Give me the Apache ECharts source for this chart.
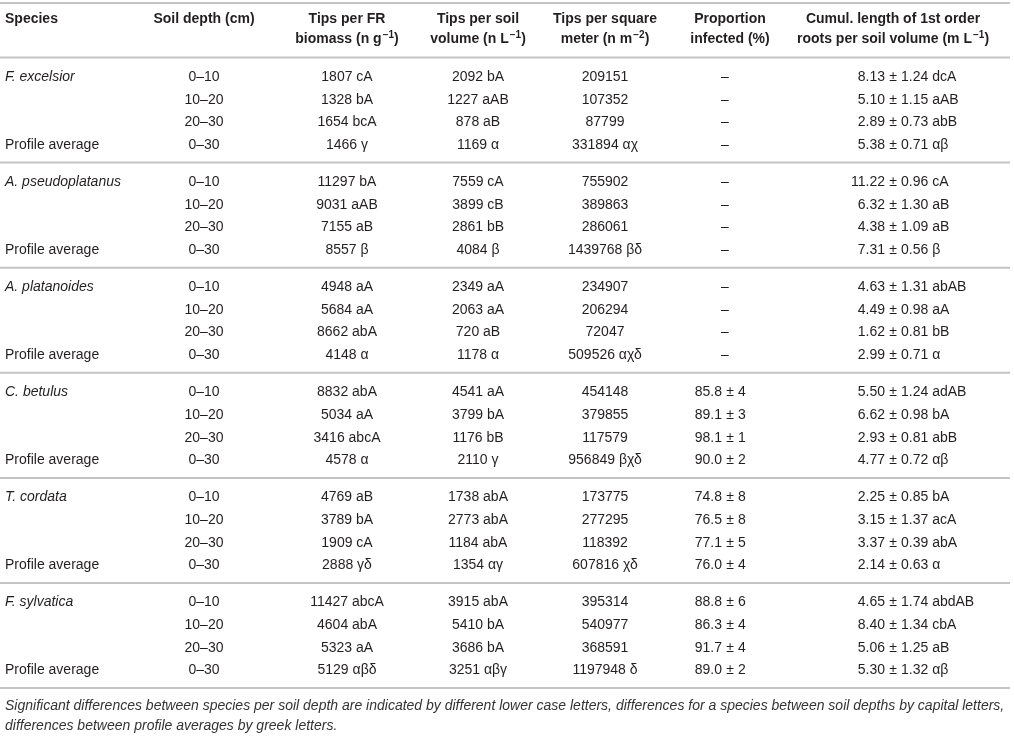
<!DOCTYPE html>
<html><head><meta charset="utf-8">
<script src="https://cdn.jsdelivr.net/npm/echarts@6/dist/echarts.min.js"></script>
<style>html,body{margin:0;padding:0;background:#fff}#c{width:1014px;height:737px}</style>
</head><body><div id="c"></div>
<script>
// ---------------- data ----------------
const species = ['F. excelsior', 'A. pseudoplatanus', 'A. platanoides', 'C. betulus', 'T. cordata', 'F. sylvatica'];
const depths = ['0–10', '10–20', '20–30', '0–30'];
const avgLabel = 'Profile average';
const tipsFR = [1807, 1328, 1654, 1466, 11297, 9031, 7155, 8557, 4948, 5684, 8662, 4148, 8832, 5034, 3416, 4578, 4769, 3789, 1909, 2888, 11427, 4604, 5323, 5129];
const tipsFRSig = ['cA', 'bA', 'bcA', 'γ', 'bA', 'aAB', 'aB', 'β', 'aA', 'aA', 'abA', 'α', 'abA', 'aA', 'abcA', 'α', 'aB', 'bA', 'cA', 'γδ', 'abcA', 'abA', 'aA', 'αβδ'];
const tipsVol = [2092, 1227, 878, 1169, 7559, 3899, 2861, 4084, 2349, 2063, 720, 1178, 4541, 3799, 1176, 2110, 1738, 2773, 1184, 1354, 3915, 5410, 3686, 3251];
const tipsVolSig = ['bA', 'aAB', 'aB', 'α', 'cA', 'cB', 'bB', 'β', 'aA', 'aA', 'aB', 'α', 'aA', 'bA', 'bB', 'γ', 'abA', 'abA', 'abA', 'αγ', 'abA', 'bA', 'bA', 'αβγ'];
const tipsM2 = [209151, 107352, 87799, 331894, 755902, 389863, 286061, 1439768, 234907, 206294, 72047, 509526, 454148, 379855, 117579, 956849, 173775, 277295, 118392, 607816, 395314, 540977, 368591, 1197948];
const tipsM2Sig = ['', '', '', 'αχ', '', '', '', 'βδ', '', '', '', 'αχδ', '', '', '', 'βχδ', '', '', '', 'χδ', '', '', '', 'δ'];
const infected = [null, null, null, null, null, null, null, null, null, null, null, null, 85.8, 89.1, 98.1, 90.0, 74.8, 76.5, 77.1, 76.0, 88.8, 86.3, 91.7, 89.0];
const infectedSE = [null, null, null, null, null, null, null, null, null, null, null, null, 4, 3, 1, 2, 8, 8, 5, 4, 6, 4, 4, 2];
const cumLen = [8.13, 5.10, 2.89, 5.38, 11.22, 6.32, 4.38, 7.31, 4.63, 4.49, 1.62, 2.99, 5.50, 6.62, 2.93, 4.77, 2.25, 3.15, 3.37, 2.14, 4.65, 8.40, 5.06, 5.30];
const cumLenSE = [1.24, 1.15, 0.73, 0.71, 0.96, 1.30, 1.09, 0.56, 1.31, 0.98, 0.81, 0.71, 1.24, 0.98, 0.81, 0.72, 0.85, 1.37, 0.39, 0.63, 1.74, 1.34, 1.25, 1.32];
const cumLenSig = ['dcA', 'aAB', 'abB', 'αβ', 'cA', 'aB', 'aB', 'β', 'abAB', 'aA', 'bB', 'α', 'adAB', 'bA', 'abB', 'αβ', 'bA', 'acA', 'abA', 'α', 'abdAB', 'cbA', 'aB', 'αβ'];
const headers = [
  ['Species'],
  ['Soil depth (cm)'],
  ['Tips per FR', ['biomass (n g', '−1', ')']],
  ['Tips per soil', ['volume (n L', '−1', ')']],
  ['Tips per square', ['meter (n m', '−2', ')']],
  ['Proportion', ['infected (%)']],
  ['Cumul. length of 1st order', ['roots per soil volume (m L', '−1', ')']]
];
const footnote = [
  'Significant differences between species per soil depth are indicated by different lower case letters, differences for a species between soil depths by capital letters,',
  'differences between profile averages by greek letters.'
];

// ---------------- layout ----------------
const FONT = '"Liberation Sans", Arial, sans-serif';
const TXT = '#231f20';
const LINE = '#c4c4c4';
const colX = [5, 204, 347, 478, 605, 730, 893];
const PM = 8;
const topLineY = 3, headLineY = 57.5, groupH = 105.1, rowH = 22.7, firstRowOff = 19.5;
const head1Y = 19, head2Y = 38;
const g = [];

function text(str, x, y, align, font, fill) {
  g.push({ type: 'text', silent: true, style: { text: str, x: x, y: y, font: font, fill: fill || TXT,
    align: align, textAlign: align, verticalAlign: 'middle', textVerticalAlign: 'middle' } });
}
function hline(y) {
  g.push({ type: 'line', silent: true, shape: { x1: 0, y1: y, x2: 1010, y2: y }, style: { stroke: LINE, lineWidth: 2 } });
}
const F = '14px ' + FONT, FB = 'bold 14px ' + FONT, FI = 'italic 14px ' + FONT;

// header
hline(topLineY);
headers.forEach((h, c) => {
  const al = c === 0 ? 'left' : 'center';
  text(h[0], colX[c], head1Y, al, FB);
  if (h[1]) {
    const p = h[1];
    let str = '{b|' + p[0] + '}';
    if (p[1]) str += '{s|' + p[1] + '}{b|' + p[2] + '}';
    g.push({ type: 'text', silent: true, style: { text: str, x: colX[c], y: head2Y, align: 'center', textAlign: 'center',
      verticalAlign: 'middle', textVerticalAlign: 'middle',
      rich: { b: { font: FB, fill: TXT, lineHeight: 16, verticalAlign: 'bottom' },
              s: { font: 'bold 10px ' + FONT, fill: TXT, lineHeight: 10, verticalAlign: 'top', padding: [0, 0, 0, 1] } } } });
  }
});
hline(headLineY);

// body
species.forEach((sp, s) => {
  const lineTop = headLineY + s * groupH;
  for (let r = 0; r < 4; r++) {
    const i = s * 4 + r;
    const y = lineTop + firstRowOff + r * rowH;
    if (r === 0) text(sp, colX[0], y, 'left', FI);
    if (r === 3) text(avgLabel, colX[0], y, 'left', F);
    text(depths[r], colX[1], y, 'center', F);
    text(tipsFR[i] + ' ' + tipsFRSig[i], colX[2], y, 'center', F);
    text(tipsVol[i] + ' ' + tipsVolSig[i], colX[3], y, 'center', F);
    text(tipsM2[i] + (tipsM2Sig[i] ? ' ' + tipsM2Sig[i] : ''), colX[4], y, 'center', F);
    if (infected[i] == null) {
      text('–', colX[5] - 5, y, 'center', F);
    } else {
      text(infected[i].toFixed(1), colX[5] - PM, y, 'right', F);
      text('±', colX[5], y, 'center', F);
      text(String(infectedSE[i]), colX[5] + PM, y, 'left', F);
    }
    text(cumLen[i].toFixed(2), colX[6] - PM, y, 'right', F);
    text('±', colX[6], y, 'center', F);
    text(cumLenSE[i].toFixed(2) + ' ' + cumLenSig[i], colX[6] + PM, y, 'left', F);
  }
  hline(lineTop + groupH);
});

// footnote
const bottomY = headLineY + species.length * groupH;
footnote.forEach((t, k) => text(t, 5, bottomY + 18 + k * 20, 'left', 'italic 14px ' + FONT, '#333'));

const chart = echarts.init(document.getElementById('c'), null, { renderer: 'canvas' });
chart.setOption({ backgroundColor: '#fff', animation: false, graphic: { elements: g } });
</script></body></html>
